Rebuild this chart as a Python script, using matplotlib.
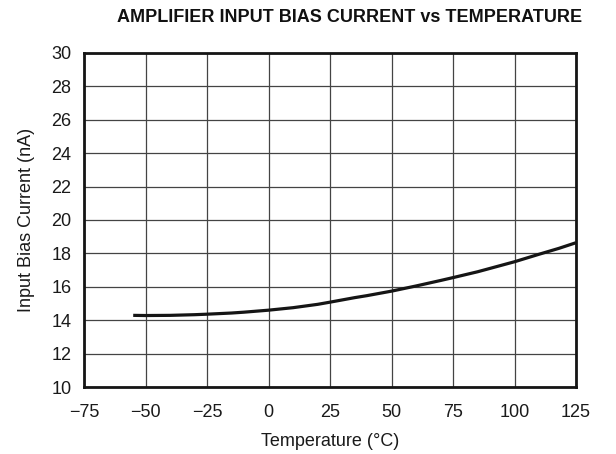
import matplotlib
matplotlib.use("Agg")
import matplotlib.pyplot as plt

temperature = [-55, -50, -40, -30, -25, -15, -10, 0, 10, 20, 25, 35, 40, 50, 60, 70, 75, 85, 90, 100, 110, 118, 125]
bias_current = [14.29, 14.28, 14.29, 14.33, 14.36, 14.43, 14.48, 14.60, 14.75, 14.95, 15.08, 15.35, 15.47, 15.74, 16.05, 16.38, 16.55, 16.90, 17.10, 17.50, 17.95, 18.30, 18.64]

x_ticks = [-75, -50, -25, 0, 25, 50, 75, 100, 125]
x_labels = ["\u221275", "\u221250", "\u221225", "0", "25", "50", "75", "100", "125"]
y_ticks = [10, 12, 14, 16, 18, 20, 22, 24, 26, 28, 30]

plt.rcParams['font.family'] = ['Liberation Sans', 'DejaVu Sans']

fig = plt.figure(figsize=(6.16, 4.54), dpi=100)
ax = fig.add_axes([84/616, 1-387/454, (576-84)/616, (387-53)/454])

ax.plot(temperature, bias_current, color='#151515', linewidth=2.3,
        solid_capstyle='butt', solid_joinstyle='round')

ax.set_xlim(-75, 125)
ax.set_ylim(10, 30)
ax.set_xticks(x_ticks)
ax.set_xticklabels(x_labels)
ax.set_yticks(y_ticks)
ax.grid(True, color='#444444', linewidth=0.9)
ax.set_axisbelow(True)
ax.tick_params(length=0, labelsize=13, colors='#1a1a1a')
ax.tick_params(axis='x', pad=12)
ax.tick_params(axis='y', pad=9)
for s in ax.spines.values():
    s.set_linewidth(2)
    s.set_color('#151515')

ax.set_xlabel("Temperature (\u00b0C)", fontsize=13, labelpad=9, color='#1a1a1a')
ax.set_ylabel("Input Bias Current (nA)", fontsize=13, labelpad=12, color='#1a1a1a')
fig.text(350/616, 1-18/454, "AMPLIFIER INPUT BIAS CURRENT vs TEMPERATURE",
         ha='center', va='center', fontsize=13, fontweight='bold', color='#111111')

fig.savefig("out.png", dpi=100)
